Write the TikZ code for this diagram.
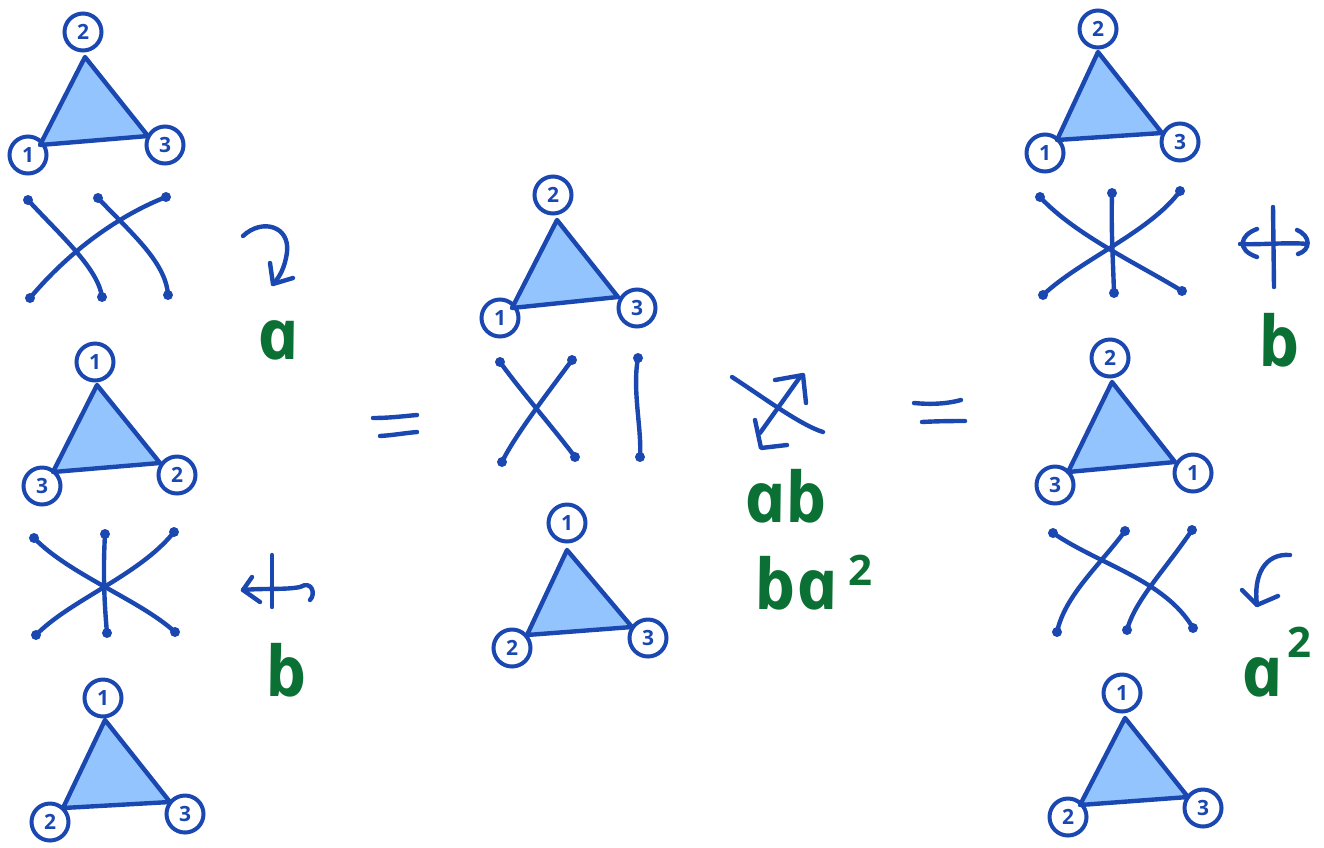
\documentclass[tikz,border=0pt]{standalone}
\usepackage{fontspec}
\newfontfamily\grfont{Open Sans}[ItalicFeatures={FakeSlant=-0.2}]
\newfontfamily\digfont{Open Sans}
\definecolor{bl}{HTML}{1A48B0}
\definecolor{tf}{HTML}{94C4FD}
\definecolor{gr}{HTML}{0B7034}
\tikzset{
  ln/.style={draw=bl, line width=4.4pt, line cap=round, line join=round},
  tri/.style={ln, fill=tf},
  lab/.style={circle, draw=bl, line width=4pt, minimum size=37pt, inner sep=0pt, text=bl,
     font=\digfont\bfseries\fontsize{21}{21}\selectfont},
  dot/.style={circle, fill=bl, inner sep=0pt, minimum size=10pt},
  glab/.style={text=gr, inner sep=0pt, xslant=-0.2, transform shape, font=\grfont\itshape\bfseries\fontsize{70}{70}\selectfont},
  sup/.style={text=gr, inner sep=0pt, font=\grfont\bfseries\fontsize{42}{42}\selectfont},
}
\newcommand{\mytri}[9]{%
  \coordinate (#1t) at #2; \coordinate (#1l) at #3; \coordinate (#1r) at #4;
  \path[tri] (#1t) -- (#1l) -- (#1r) -- cycle;
  \node[lab] (#1A) at #5 {#6};
  \node[lab] (#1B) at #7 {#8};
  #9
}
\begin{document}
\begin{tikzpicture}[x=1pt,y=-1pt]
\useasboundingbox (0,0) rectangle (1324,847);
\fill[white] (0,0) rectangle (1324,847);

% ---------- left column ----------
\mytri{p}{(85,57)}{(40,145)}{(148,136)}{(83,32)}{2}{(28,155)}{1}{\node[lab] (pC) at (165,145) {3};}

\node[dot] (b1a) at (28,200) {}; \node[dot] (b1b) at (98,198) {}; \node[dot] (b1c) at (166,197) {};
\node[dot] (b1d) at (30,298) {}; \node[dot] (b1e) at (102,297) {}; \node[dot] (b1f) at (168,295) {};
\draw[ln] (b1a.center) .. controls (60,235) and (98,268) .. (b1e.center);
\draw[ln] (b1b.center) .. controls (130,232) and (166,262) .. (b1f.center);
\draw[ln] (b1d.center) .. controls (70,250) and (120,215) .. (b1c.center);

\coordinate (ra0) at (243,236); \coordinate (ra1) at (273,284);
\draw[ln] (ra0) .. controls (262,218) and (290,226) .. (287,252) .. controls (285,268) and (279,278) .. (ra1);
\draw[ln] (270,263) -- (ra1) -- (293,278);
\node[glab] (la) at (278,340) {a};

\mytri{q}{(97,385)}{(53,472)}{(160,463)}{(95,362)}{1}{(42,486)}{3}{\node[lab] (qC) at (177,475) {2};}

\node[dot] (s1a) at (34,538) {}; \node[dot] (s1b) at (105,534) {}; \node[dot] (s1c) at (174,532) {};
\node[dot] (s1d) at (36,635) {}; \node[dot] (s1e) at (107,633) {}; \node[dot] (s1f) at (175,632) {};
\draw[ln] (s1a.center) .. controls (70,575) and (140,600) .. (s1f.center);
\draw[ln] (s1c.center) .. controls (140,575) and (70,600) .. (s1d.center);
\draw[ln] (s1b.center) .. controls (103,570) and (104,600) .. (s1e.center);

\draw[ln] (272,555) -- (272,607);
\draw[ln] (243,590) .. controls (265,588) and (285,590) .. (300,587) .. controls (312,580) and (316,594) .. (310,600);
\draw[ln] (252,577) -- (243,590) -- (260,602);
\node[glab] (lb) at (285,670) {b};

\mytri{r}{(105,720)}{(63,808)}{(170,802)}{(103,698)}{1}{(50,822)}{2}{\node[lab] (rC) at (185,814) {3};}

% ---------- middle ----------
\draw[ln] (373,418) .. controls (390,418) and (405,416) .. (417,415);
\draw[ln] (380,436) .. controls (395,435) and (405,433) .. (417,432);

\mytri{m}{(557,220)}{(512,308)}{(618,297)}{(553,195)}{2}{(500,318)}{1}{\node[lab] (mC) at (637,308) {3};}

\node[dot] (x1a) at (500,362) {}; \node[dot] (x1b) at (572,360) {}; \node[dot] (x1c) at (638,358) {};
\node[dot] (x1d) at (502,462) {}; \node[dot] (x1e) at (575,457) {}; \node[dot] (x1f) at (640,457) {};
\draw[ln] (x1a.center) .. controls (520,390) and (555,430) .. (x1e.center);
\draw[ln] (x1b.center) .. controls (550,390) and (515,435) .. (x1d.center);
\draw[ln] (x1c.center) .. controls (632,390) and (642,430) .. (x1f.center);

\draw[ln] (732,377) .. controls (760,395) and (800,425) .. (823,432);
\draw[ln] (760,433) -- (800,377);
\draw[ln] (775,380) -- (803,375) -- (806,403);
\draw[ln] (755,420) -- (761,448) -- (787,445);
\node[glab, anchor=base] (lab1) at (790,522) {ab};
\node[glab, anchor=base] (lab2) at (800,609) {ba};
\node[sup, anchor=base] (lab2s) at (860,585) {2};

\mytri{n}{(567,550)}{(527,635)}{(632,627)}{(567,523)}{1}{(512,648)}{2}{\node[lab] (nC) at (648,638) {3};}

\draw[ln] (914,403) .. controls (935,405) and (950,403) .. (961,400);
\draw[ln] (922,422) .. controls (940,421) and (955,421) .. (965,421);

% ---------- right column ----------
\mytri{u}{(1098,52)}{(1057,140)}{(1162,133)}{(1098,29)}{2}{(1045,153)}{1}{\node[lab] (uC) at (1180,142) {3};}

\node[dot] (s2a) at (1040,197) {}; \node[dot] (s2b) at (1112,193) {}; \node[dot] (s2c) at (1180,191) {};
\node[dot] (s2d) at (1043,295) {}; \node[dot] (s2e) at (1114,293) {}; \node[dot] (s2f) at (1182,291) {};
\draw[ln] (s2a.center) .. controls (1075,235) and (1140,265) .. (s2f.center);
\draw[ln] (s2c.center) .. controls (1150,232) and (1080,260) .. (s2d.center);
\draw[ln] (s2b.center) .. controls (1111,230) and (1113,260) .. (s2e.center);

\draw[ln] (1273,207) -- (1274,287);
\draw[ln] (1240,244) .. controls (1260,245) and (1290,242) .. (1307,244);
\draw[ln] (1257,229) .. controls (1240,235) and (1236,250) .. (1257,257);
\draw[ln] (1297,230) .. controls (1311,236) and (1311,250) .. (1298,254);
\node[glab] (rb) at (1278,340) {b};

\mytri{v}{(1112,382)}{(1068,472)}{(1175,462)}{(1110,358)}{2}{(1055,485)}{3}{\node[lab] (vC) at (1193,473) {1};}

\node[dot] (x2a) at (1053,533) {}; \node[dot] (x2b) at (1125,531) {}; \node[dot] (x2c) at (1192,530) {};
\node[dot] (x2d) at (1057,632) {}; \node[dot] (x2e) at (1127,630) {}; \node[dot] (x2f) at (1193,628) {};
\draw[ln] (x2a.center) .. controls (1100,565) and (1165,580) .. (x2f.center);
\draw[ln] (x2b.center) .. controls (1100,565) and (1065,595) .. (x2d.center);
\draw[ln] (x2c.center) .. controls (1165,570) and (1135,600) .. (x2e.center);

\coordinate (rq0) at (1290,555); \coordinate (rq1) at (1257,605);
\draw[ln] (rq0) .. controls (1265,553) and (1253,575) .. (rq1);
\draw[ln] (1242,590) -- (rq1) -- (1278,596);
\node[glab, anchor=base] (ra2) at (1266,696) {a};
\node[sup, anchor=base] (ra2s) at (1299,657) {2};

\mytri{w}{(1125,718)}{(1080,805)}{(1188,797)}{(1122,693)}{1}{(1068,817)}{2}{\node[lab] (wC) at (1203,808) {3};}
\end{tikzpicture}
\end{document}
